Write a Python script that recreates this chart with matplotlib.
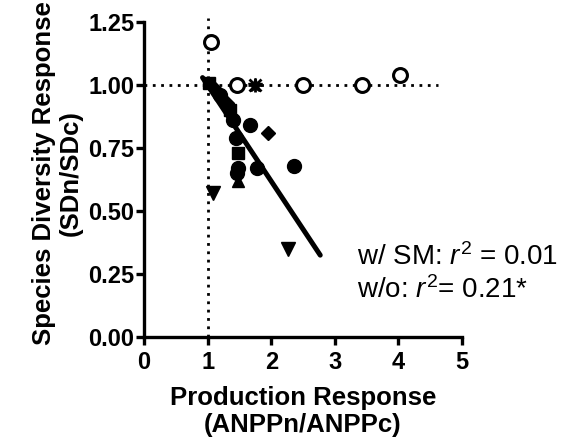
import numpy as np
import matplotlib
matplotlib.use('Agg')
import matplotlib.pyplot as plt

plt.rcParams['font.family'] = ['Liberation Sans', 'DejaVu Sans']
plt.rcParams['mathtext.fontset'] = 'custom'
plt.rcParams['mathtext.rm'] = 'Liberation Sans'
plt.rcParams['mathtext.it'] = 'Liberation Sans:italic'

# data
open_x = [1.05, 1.46, 2.50, 3.43, 4.03]
open_y = [1.17, 1.00, 1.00, 1.00, 1.04]
star_x = [1.74]
star_y = [1.00]
circ_x = [1.67, 2.36, 1.78, 1.48, 1.46, 1.40, 1.45, 1.20]
circ_y = [0.84, 0.68, 0.67, 0.67, 0.65, 0.86, 0.79, 0.96]
diam_x = [1.95, 1.10, 1.30]
diam_y = [0.81, 0.99, 0.93]
tdown_x = [1.08, 2.26]
tdown_y = [0.57, 0.35]
tup_x = [1.48]
tup_y = [0.62]
sq_x = [1.48, 1.35, 1.02]
sq_y = [0.73, 0.90, 1.01]
fit_x = [0.92, 2.77]
fit_y = [1.03, 0.325]
ref_h_x = [0, 4.62]
ref_v_y = [0, 1.265]

fig = plt.figure(figsize=(5.67, 4.44), dpi=100)
ax = fig.add_axes([0.254, 0.241, 0.561, 0.709])

dots = (0, (1, 2))
ax.plot(ref_h_x, [1, 1], color='black', lw=2, linestyle=dots, clip_on=False, zorder=1)
ax.plot([1, 1], ref_v_y, color='black', lw=2, linestyle=dots, clip_on=False, zorder=1)

ax.plot(fit_x, fit_y, color='black', lw=3.6, solid_capstyle='round', zorder=3)

ax.plot(circ_x, circ_y, 'o', color='black', ms=10, zorder=4)
ax.plot(diam_x, diam_y, 'D', color='black', ms=7.5, zorder=4)
ax.plot(sq_x, sq_y, 's', color='black', ms=8, zorder=4)
ax.plot(tdown_x, tdown_y, 'v', color='black', ms=10, zorder=4)
ax.plot(tup_x, tup_y, '^', color='black', ms=9, zorder=4)
ax.plot(open_x, open_y, 'o', mfc='white', mec='black', mew=2.2, ms=10, zorder=5, clip_on=False)
ax.plot(star_x, star_y, '*', color='black', ms=10, zorder=5)
ax.plot(star_x, star_y, '+', color='black', ms=10, mew=2, zorder=5)
ax.plot(star_x, star_y, 'x', color='black', ms=8, mew=2, zorder=5)

ax.set_xlim(0, 5)
ax.set_ylim(0, 1.25)
ax.set_xticks([0, 1, 2, 3, 4, 5])
ax.set_yticks([0, 0.25, 0.5, 0.75, 1.0, 1.25])
ax.set_yticklabels(['0.00', '0.25', '0.50', '0.75', '1.00', '1.25'])
for s in ['top', 'right']:
    ax.spines[s].set_visible(False)
for s in ['left', 'bottom']:
    ax.spines[s].set_linewidth(2.4)
ax.tick_params(width=2.4, length=6, labelsize=17)
ax.tick_params(axis='y', pad=1)
ax.tick_params(axis='x', pad=4)
for lab in ax.get_xticklabels() + ax.get_yticklabels():
    lab.set_fontweight('bold')

ax.set_xlabel('Production Response\n(ANPPn/ANPPc)', fontsize=18.5, fontweight='bold', labelpad=9, linespacing=1.15)
ax.set_ylabel('Species Diversity Response\n(SDn/SDc)', fontsize=18.5, fontweight='bold', labelpad=4, linespacing=1.15, y=0.52)

ax.text(3.35, 0.285, r'w/ SM: $r^2$ = 0.01', fontsize=20, clip_on=False)
ax.text(3.35, 0.155, r'w/o: $r^2$= 0.21*', fontsize=20, clip_on=False)

fig.savefig('out.png', dpi=100)
